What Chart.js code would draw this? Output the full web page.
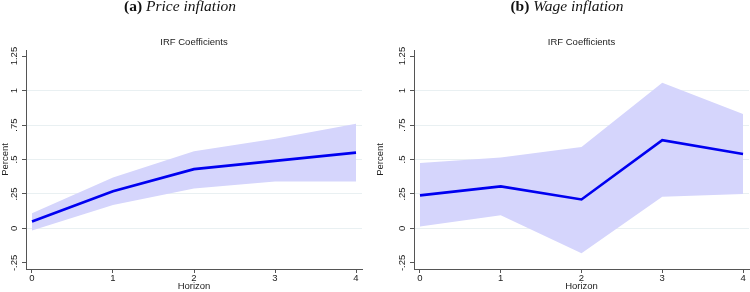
<!DOCTYPE html>
<html>
<head>
<meta charset="utf-8">
<script src="https://cdn.jsdelivr.net/npm/chart.js@4"></script>
<style>
  html, body { margin: 0; padding: 0; background: #fff; }
  #wrap { position: relative; width: 750px; height: 292px; overflow: hidden; }
  .panel { position: absolute; top: 0; width: 375px; height: 292px; }
  .head { position: absolute; top: -3px; font-family: "Liberation Serif", serif; font-size: 15.5px; color: #111; white-space: nowrap; transform: translateX(-50%); }
  .head b { font-weight: bold; }
  .head i { font-style: italic; }
</style>
</head>
<body>
<div id="wrap">
  <div class="panel" style="left:0"><canvas id="priceChart" width="375" height="292"></canvas></div>
  <div class="panel" style="left:375px"><canvas id="wageChart" width="375" height="292"></canvas></div>
  <div class="head" style="left:180px"><b>(a)</b> <i>Price inflation</i></div>
  <div class="head" style="left:567px"><b>(b)</b> <i>Wage inflation</i></div>
</div>
<script>
// Horizons et graduations
const horizons = [0, 1, 2, 3, 4];
const yTicks = [-0.25, 0, 0.25, 0.5, 0.75, 1, 1.25];

// (a) Inflation des prix
const priceIrf = [0.05, 0.27, 0.43, 0.49, 0.55];
const priceUpper = [0.11, 0.37, 0.56, 0.65, 0.76];
const priceLower = [-0.015, 0.17, 0.29, 0.34, 0.34];

// (b) Inflation des salaires
const wageIrf = [0.24, 0.305, 0.21, 0.64, 0.54];
const wageUpper = [0.475, 0.515, 0.59, 1.056, 0.83];
const wageLower = [0.015, 0.095, -0.18, 0.23, 0.25];

const fmtTick = v => {
    const s = String(+v.toFixed(2));
    return s.replace(/^0\./, '.').replace(/^-0\./, '-.');
};

// Sous-titre centré sur la zone de tracé
const subTitle = {
    id: 'subTitle',
    afterDraw(chart) {
        const { ctx, chartArea } = chart;
        ctx.save();
        ctx.font = '9.5px "Liberation Sans", Arial, sans-serif';
        ctx.fillStyle = '#222';
        ctx.textAlign = 'center';
        ctx.textBaseline = 'middle';
        ctx.fillText('IRF Coefficients', (chartArea.left + chartArea.right) / 2, 42.5);
        ctx.restore();
    },
};

function irfChart(canvasId, irf, upper, lower, axisWidth, rightPad) {
    const pts = arr => horizons.map((h, i) => ({ x: h, y: arr[i] }));
    return new Chart(document.getElementById(canvasId), {
        type: 'line',
        data: {
            datasets: [
                {
                    data: pts(irf),
                    borderColor: '#0000f0',
                    borderWidth: 2.6,
                    pointRadius: 0,
                    fill: false,
                    tension: 0,
                    order: 0,
                },
                {
                    data: pts(upper),
                    borderWidth: 0,
                    pointRadius: 0,
                    backgroundColor: 'rgb(213,213,252)',
                    fill: '+1',
                    order: 1,
                },
                {
                    data: pts(lower),
                    borderWidth: 0,
                    pointRadius: 0,
                    fill: false,
                    order: 1,
                },
            ],
        },
        options: {
            responsive: false,
            animation: false,
            layout: { padding: { left: 0, right: rightPad, top: 50, bottom: 0 } },
            plugins: { legend: { display: false }, tooltip: { enabled: false }, title: { display: false } },
            scales: {
                x: {
                    type: 'linear',
                    min: -0.074,
                    max: 4.074,
                    afterBuildTicks: s => { s.ticks = horizons.map(v => ({ value: v })); },
                    afterFit: s => { s.height = 23; },
                    grid: { display: true, drawOnChartArea: false, drawTicks: true, tickLength: 4, tickColor: '#555' },
                    border: { display: true, color: '#555', width: 1 },
                    ticks: { color: '#222', font: { family: '"Liberation Sans", Arial, sans-serif', size: 9.5 }, padding: 0, maxRotation: 0 },
                    title: { display: true, text: 'Horizon', color: '#222', font: { family: '"Liberation Sans", Arial, sans-serif', size: 9.5 }, padding: { top: -1, bottom: 0 } },
                },
                y: {
                    min: -0.294,
                    max: 1.294,
                    afterBuildTicks: s => { s.ticks = yTicks.map(v => ({ value: v })); },
                    afterFit: s => { s.width = axisWidth; },
                    grid: {
                        color: c => (c.tick && (c.tick.value === -0.25 || c.tick.value === 1.25)) ? 'rgba(0,0,0,0)' : '#e9f0f2',
                        lineWidth: 1,
                        drawTicks: true,
                        tickLength: 4,
                        tickColor: '#555',
                    },
                    border: { display: true, color: '#555', width: 1 },
                    ticks: {
                        callback: v => fmtTick(v),
                        minRotation: 90,
                        maxRotation: 90,
                        crossAlign: 'center',
                        padding: -2,
                        color: '#222',
                        font: { family: '"Liberation Sans", Arial, sans-serif', size: 9.5 },
                    },
                    title: { display: true, text: 'Percent', color: '#222', font: { family: '"Liberation Sans", Arial, sans-serif', size: 9.5 }, padding: 0 },
                },
            },
        },
        plugins: [subTitle],
    });
}

irfChart('priceChart', priceIrf, priceUpper, priceLower, 26, 13);
irfChart('wageChart', wageIrf, wageUpper, wageLower, 39, 1);
</script>
</body>
</html>
